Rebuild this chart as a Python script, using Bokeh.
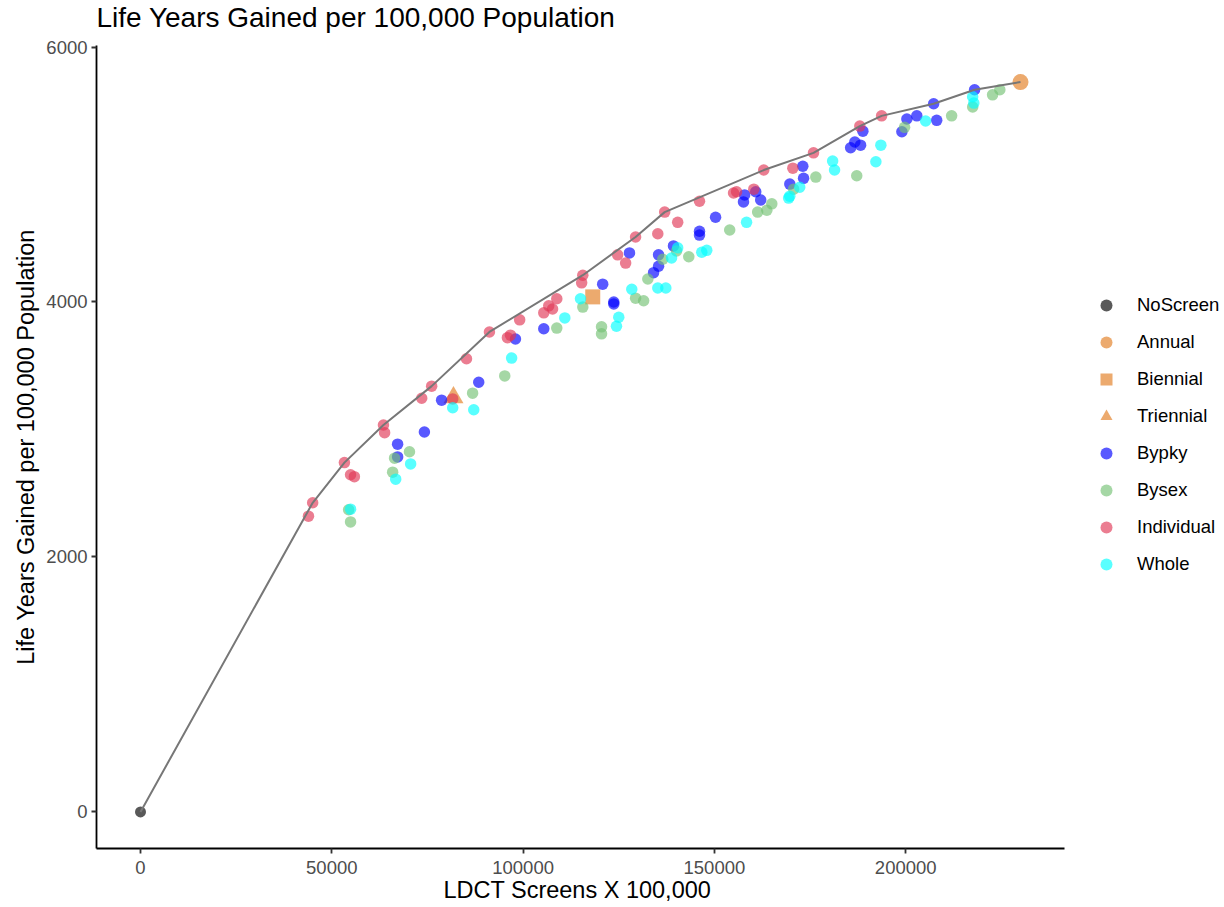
from bokeh.plotting import figure
from bokeh.models import Range1d, FixedTicker, BasicTickFormatter, Legend, LegendItem, Title
from bokeh.embed import file_html
from bokeh.resources import INLINE

title_text = "Life Years Gained per 100,000 Population"
x_label = "LDCT Screens X 100,000"
y_label = "Life Years Gained per 100,000 Population"
x_ticks = [0, 50000, 100000, 150000, 200000]
y_ticks = [0, 2000, 4000, 6000]

noscreen_x = [0]
noscreen_y = [0]
annual_x = [230000]
annual_y = [5725]
biennial_x = [118200]
biennial_y = [4040]
triennial_x = [81800]
triennial_y = [3250]

bypky_x = [67200, 67200, 74200, 78700, 88400, 98000, 105400, 120800, 123700, 123700,
           127800, 134100, 135400, 135400, 139300, 146100, 146100, 150300, 157600, 157900,
           160800, 162100, 169700, 173100, 173300, 185600, 186700, 188200, 188800, 199000,
           200300, 202900, 207300, 208100, 218000]
bypky_y = [2885, 2785, 2980, 3230, 3370, 3710, 3790, 4140, 4000, 3985,
           4385, 4230, 4280, 4370, 4440, 4555, 4525, 4665, 4785, 4840,
           4865, 4800, 4925, 5065, 4970, 5210, 5255, 5230, 5340, 5335,
           5435, 5460, 5555, 5425, 5665]

bysex_x = [54900, 54400, 65900, 66400, 70300, 86800, 95200, 108800, 115600, 120500,
           120500, 129400, 131500, 132600, 136500, 140100, 143300, 154000, 161300, 163700,
           165000, 170700, 176500, 187200, 199700, 212000, 217500, 222700, 224600]
bysex_y = [2275, 2370, 2665, 2775, 2825, 3285, 3420, 3795, 3960, 3805,
           3750, 4030, 4010, 4180, 4335, 4400, 4355, 4565, 4705, 4720,
           4770, 4885, 4980, 4990, 5370, 5460, 5530, 5625, 5665]

individual_x = [43900, 45000, 53300, 54900, 55900, 63500, 63800, 73500, 76100, 81600,
                85200, 91200, 95900, 96700, 99100, 105400, 106700, 107700, 108800, 115300,
                115600, 124700, 126800, 129400, 135200, 137000, 140400, 146100, 155000, 155800,
                160300, 162900, 170500, 175900, 188000, 193700]
individual_y = [2320, 2425, 2740, 2645, 2630, 3035, 2975, 3245, 3340, 3240,
                3555, 3765, 3720, 3740, 3860, 3915, 3970, 3945, 4025, 4150,
                4210, 4370, 4305, 4510, 4535, 4705, 4625, 4790, 4855, 4865,
                4885, 5035, 5050, 5170, 5380, 5460]

whole_x = [54900, 66700, 70600, 81600, 87100, 97000, 110900, 115000, 124400, 125000,
           128400, 135200, 137300, 138800, 140400, 146700, 148000, 158400, 169400, 169700,
           172300, 180900, 181400, 192200, 193500, 205200, 217500, 217800]
whole_y = [2375, 2610, 2730, 3170, 3155, 3560, 3875, 4025, 3810, 3880,
           4100, 4110, 4110, 4345, 4425, 4390, 4405, 4625, 4815, 4830,
           4900, 5105, 5035, 5100, 5230, 5420, 5610, 5560]

frontier_x = [0, 45000, 53300, 63500, 76100, 91200, 115600, 129400, 137000, 162900,
              175900, 188000, 193700, 207300, 218000, 230000]
frontier_y = [0, 2425, 2740, 3035, 3340, 3765, 4210, 4510, 4705, 5035,
              5170, 5380, 5460, 5555, 5665, 5725]

FONT = "Liberation Sans"
ALPHA = 0.65

# panel spans x in [-11500, 241500] over 968 px; the frame is extended to the right
# canvas edge (legend area), the axis is bounded to the panel span.
X_START, X_END_AXIS = -11500, 241500
X_END_FRAME = X_START + (X_END_AXIS - X_START) * 1128 / 968

p = figure(width=1224, height=907,
           x_range=Range1d(X_START, X_END_FRAME), y_range=Range1d(-287, 6012),
           output_backend="svg", toolbar_location=None,
           min_border_left=96, min_border_right=0,
           min_border_top=45, min_border_bottom=59)

p.title.text = title_text
p.title.text_font = FONT
p.title.text_font_size = "28px"
p.title.text_font_style = "normal"
p.title.text_color = "black"
p.title.align = "left"
p.title.vertical_align = "top"
p.title.standoff = 0
# thin blank spacer between the title and the plot area
p.add_layout(Title(text=" ", text_font_size="1px", standoff=8), "above")

p.grid.visible = False
p.outline_line_color = None
p.background_fill_color = "white"
p.border_fill_color = "white"

p.xaxis.ticker = FixedTicker(ticks=x_ticks)
p.yaxis.ticker = FixedTicker(ticks=y_ticks)
p.xaxis.formatter = BasicTickFormatter(use_scientific=False)
p.yaxis.formatter = BasicTickFormatter(use_scientific=False)
p.xaxis.bounds = (X_START, X_END_AXIS)
p.yaxis.axis_label = y_label
for ax in [p.xaxis[0], p.yaxis[0]]:
    ax.axis_label_text_font = FONT
    ax.axis_label_text_font_size = "23.5px"
    ax.axis_label_text_font_style = "normal"
    ax.axis_label_text_color = "black"
    ax.major_label_text_font = FONT
    ax.major_label_text_font_size = "18.5px"
    ax.major_label_text_color = "#4D4D4D"
    ax.axis_line_color = "black"
    ax.axis_line_width = 1.8
    ax.major_tick_line_color = "#333333"
    ax.major_tick_line_width = 1.8
    ax.major_tick_in = 0
    ax.major_tick_out = 5
    ax.minor_tick_in = 0
    ax.minor_tick_out = 0
    ax.axis_label_standoff = 4
p.yaxis.major_label_standoff = 4
p.xaxis.major_label_standoff = 7

# x axis title, centred under the bounded axis (not under the wider frame)
p.add_layout(Title(text=x_label, text_font=FONT, text_font_size="23.5px",
                   text_font_style="normal", text_color="black",
                   align="left", offset=347, vertical_align="top", standoff=0),
             "below")

ORANGE = "#E27C20"


def pts(xs, ys, marker, size, color):
    return p.scatter(xs, ys, marker=marker, size=size, fill_color=color,
                     line_color=None, fill_alpha=ALPHA)


r_no = pts(noscreen_x, noscreen_y, "circle", 11, "#000000")
r_an = pts(annual_x, annual_y, "circle", 16, ORANGE)
r_bi = pts(biennial_x, biennial_y, "square", 15, ORANGE)
r_tr = pts(triennial_x, triennial_y, "triangle", 20, ORANGE)
r_bp = pts(bypky_x, bypky_y, "circle", 11.5, "#0000FF")
r_bs = pts(bysex_x, bysex_y, "circle", 11.5, "#75C175")
r_in = pts(individual_x, individual_y, "circle", 11.5, "#E03756")
r_wh = pts(whole_x, whole_y, "circle", 11.5, "#00FFFF")

p.line(frontier_x, frontier_y, line_color="#777777", line_width=2)

items = [
    LegendItem(label="NoScreen", renderers=[r_no]),
    LegendItem(label="Annual", renderers=[r_an]),
    LegendItem(label="Biennial", renderers=[r_bi]),
    LegendItem(label="Triennial", renderers=[r_tr]),
    LegendItem(label="Bypky", renderers=[r_bp]),
    LegendItem(label="Bysex", renderers=[r_bs]),
    LegendItem(label="Individual", renderers=[r_in]),
    LegendItem(label="Whole", renderers=[r_wh]),
]
legend = Legend(items=items, location=(995, 269), orientation="vertical",
                glyph_width=30, glyph_height=30, label_height=30, spacing=7,
                padding=5, margin=0, label_standoff=16,
                label_text_font=FONT, label_text_font_size="18.5px",
                label_text_color="black",
                border_line_color=None, background_fill_alpha=0)
p.add_layout(legend)

open("out.html", "w").write(file_html(p, INLINE))
